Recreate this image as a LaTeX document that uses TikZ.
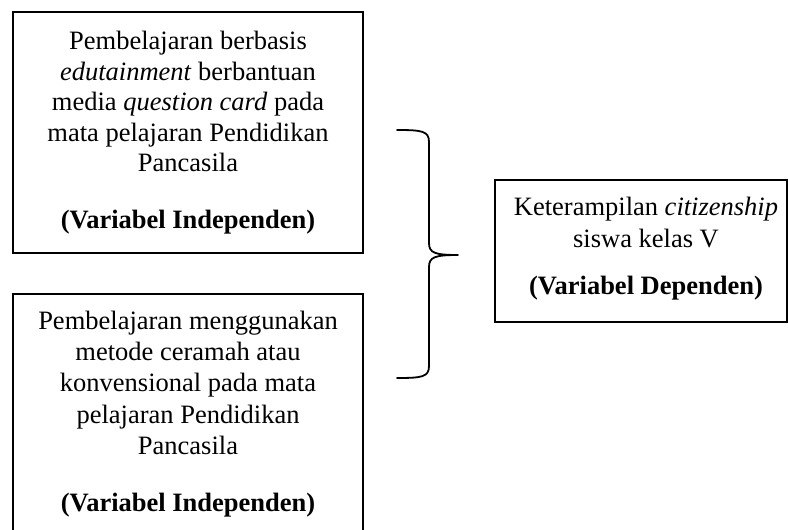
\documentclass[tikz,border=0pt]{standalone}
\usepackage{fontspec}
\setmainfont{Liberation Serif}
\begin{document}
\begin{tikzpicture}[x=1pt,y=-1pt,
  frame/.style={draw=black,line width=1.8pt,inner sep=0pt},
  txt/.style={align=center,inner sep=0pt,font=\fontsize{26.5}{30.5}\selectfont},
  bracepath/.style={draw=black,line width=1.8pt,line cap=round,line join=round}]
\useasboundingbox (0,0) rectangle (788,530);
\clip (0,0) rectangle (788,530);
\node[frame,minimum width=350,minimum height=241] (b1) at (188,132.5) {};
\node[txt] (t1) at (188,132.5)
  {Pembelajaran berbasis\\ \textit{edutainment} berbantuan\\ media \textit{question card} pada\\ mata pelajaran Pendidikan\\ Pancasila\\[26pt] \textbf{(Variabel Independen)}};
\node[frame,minimum width=350,minimum height=250] (b2) at (188,419) {};
\node[txt,font=\fontsize{26.5}{31.3}\selectfont] (t2) at (188,414)
  {Pembelajaran menggunakan\\ metode ceramah atau\\ konvensional pada mata\\ pelajaran Pendidikan\\ Pancasila\\[25.5pt] \textbf{(Variabel Independen)}};
\node[frame,minimum width=292,minimum height=142] (b3) at (641,251) {};
\node[txt,font=\fontsize{26.5}{32}\selectfont] (t3) at (646,248.5)
  {Keterampilan \textit{citizenship}\\ siswa kelas V\\[15pt] \textbf{(Variabel Dependen)}};
\coordinate (bt) at (397,130);
\coordinate (bb) at (397,378);
\coordinate (tip) at (458,255);
\draw[bracepath] (bt) .. controls (422,130) and (429,131) .. (429,142)
  -- (429,243) .. controls (429,253) and (435,255) .. (tip)
  .. controls (435,255) and (429,257) .. (429,267)
  -- (429,366) .. controls (429,377) and (422,378) .. (bb);
\end{tikzpicture}
\end{document}
